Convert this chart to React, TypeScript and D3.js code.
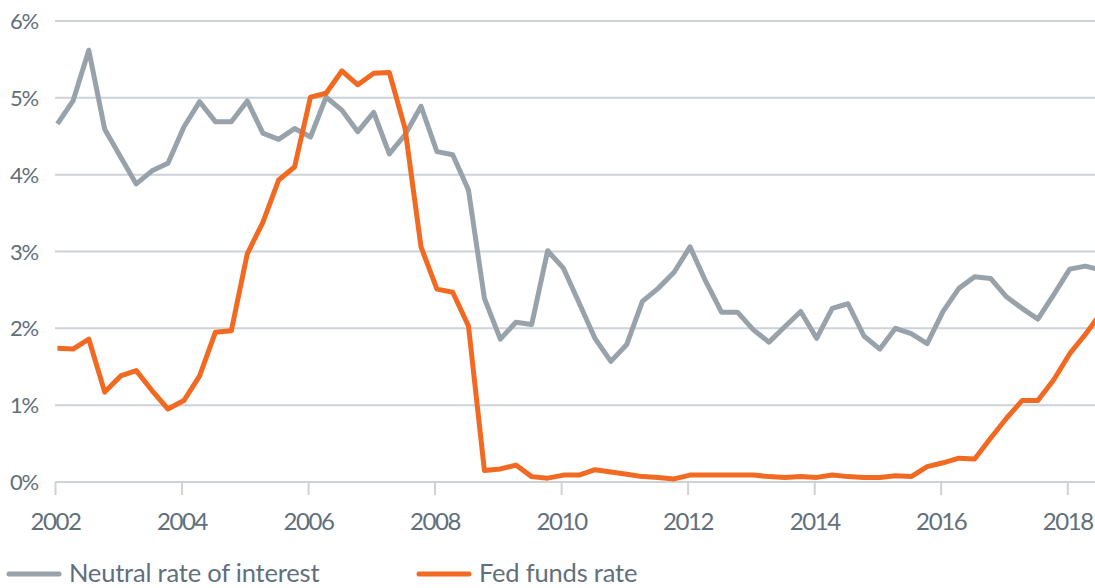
import React, { useRef, useEffect } from 'react';
import * as d3 from 'd3';

// quarterly observations, starting Q1 2002
const startYear = 2002;
const neutralRate = [
  4.66, 4.96, 5.62, 4.59, 4.23, 3.88, 4.05, 4.15, 4.62, 4.95, 4.69, 4.69, 4.96, 4.54, 4.46, 4.6,
  4.49, 5.01, 4.84, 4.56, 4.81, 4.27, 4.52, 4.89, 4.3, 4.26, 3.8, 2.39, 1.86, 2.08, 2.05, 3.01,
  2.78, 2.33, 1.87, 1.57, 1.79, 2.35, 2.52, 2.73, 3.06, 2.61, 2.21, 2.21, 1.98, 1.82, 2.02, 2.22,
  1.87, 2.26, 2.32, 1.9, 1.73, 2.0, 1.93, 1.8, 2.22, 2.52, 2.67, 2.65, 2.41, 2.26, 2.12, 2.44,
  2.77, 2.81, 2.76,
];
const fedFunds = [
  1.74, 1.73, 1.86, 1.17, 1.38, 1.45, 1.19, 0.95, 1.06, 1.38, 1.95, 1.97, 2.97, 3.38, 3.93, 4.1,
  5.01, 5.06, 5.35, 5.17, 5.32, 5.33, 4.6, 3.06, 2.51, 2.47, 2.03, 0.15, 0.17, 0.22, 0.07, 0.05,
  0.09, 0.09, 0.16, 0.13, 0.1, 0.07, 0.06, 0.04, 0.09, 0.09, 0.09, 0.09, 0.09, 0.07, 0.06, 0.07,
  0.06, 0.09, 0.07, 0.06, 0.06, 0.08, 0.07, 0.2, 0.25, 0.31, 0.3, 0.57, 0.83, 1.06, 1.06, 1.33,
  1.67, 1.92, 2.2,
];
const yTicks = [0, 1, 2, 3, 4, 5, 6];
const xTickYears = [2002, 2004, 2006, 2008, 2010, 2012, 2014, 2016, 2018];
const seriesNames = ['Neutral rate of interest', 'Fed funds rate'];
const seriesColors = ['#97a2aa', '#f26a22'];

const Chart = () => {
  const ref = useRef<SVGSVGElement>(null);

  useEffect(() => {
    const svg = d3.select(ref.current);
    svg.selectAll('*').remove();

    const width = 1095;
    const height = 588;
    const left = 55;
    const right = 1095;
    const top = 21;
    const bottom = 482;
    const font = 'Lato, "Open Sans", sans-serif';
    const textColor = '#5f6f7b';

    const dates = neutralRate.map((_, i) => new Date(startYear, i * 3, 15));

    const x = d3.scaleTime()
      .domain([new Date(2002, 0, 1), new Date(2018, 5, 10)])
      .range([left, right]);
    const y = d3.scaleLinear().domain([0, 6]).range([bottom, top]);

    svg.attr('width', width).attr('height', height);

    svg.append('defs').append('clipPath').attr('id', 'plot-clip')
      .append('rect')
      .attr('x', left - 10).attr('y', 0)
      .attr('width', right - left + 10).attr('height', height);

    // gridlines
    svg.append('g')
      .selectAll('line')
      .data(yTicks)
      .join('line')
      .attr('x1', left).attr('x2', right)
      .attr('y1', d => y(d)).attr('y2', d => y(d))
      .attr('stroke', '#cdd2d7')
      .attr('stroke-width', 2);

    // y labels
    svg.append('g')
      .selectAll('text')
      .data(yTicks)
      .join('text')
      .attr('x', 10)
      .attr('y', d => y(d) + 8)
      .attr('fill', textColor)
      .attr('font-family', font)
      .attr('font-size', 22)
      .attr('letter-spacing', -1.2)
      .text(d => d + '%');

    // x axis
    const xAxis = svg.append('g')
      .attr('transform', 'translate(0,' + bottom + ')')
      .call(d3.axisBottom(x)
        .tickValues(xTickYears.map(yr => new Date(yr, 0, 1)))
        .tickFormat(d => String((d as Date).getFullYear()))
        .tickSize(13)
        .tickPadding(0));
    xAxis.select('.domain').remove();
    xAxis.selectAll('line').attr('stroke', '#cdd2d7').attr('stroke-width', 2);
    xAxis.selectAll('text')
      .attr('dy', null)
      .attr('y', 48)
      .attr('fill', textColor)
      .attr('font-family', font)
      .attr('font-size', 24)
      .attr('letter-spacing', -1.4);

    // lines
    const line = d3.line<number>()
      .x((_, i) => x(dates[i]))
      .y(d => y(d));

    [neutralRate, fedFunds].forEach((s, k) => {
      svg.append('path')
        .datum(s)
        .attr('clip-path', 'url(#plot-clip)')
        .attr('fill', 'none')
        .attr('stroke', seriesColors[k])
        .attr('stroke-width', 5)
        .attr('stroke-linejoin', 'round')
        .attr('d', line);
    });

    // legend
    const legendX = [7, 417];
    const legend = svg.append('g').attr('transform', 'translate(0,574)');
    seriesNames.forEach((name, k) => {
      legend.append('line')
        .attr('x1', legendX[k] + 2).attr('x2', legendX[k] + 52)
        .attr('y1', 0).attr('y2', 0)
        .attr('stroke', seriesColors[k])
        .attr('stroke-width', 5)
        .attr('stroke-linecap', 'round');
      legend.append('text')
        .attr('x', legendX[k] + 62)
        .attr('y', 8)
        .attr('fill', textColor)
        .attr('font-family', font)
        .attr('font-size', 25.5)
        .attr('letter-spacing', -0.2)
        .text(name);
    });
  }, []);

  return <svg ref={ref} style={{ position: 'absolute', left: 0, top: 0 }}></svg>;
};

export default function App() {
  return <Chart />;
}
